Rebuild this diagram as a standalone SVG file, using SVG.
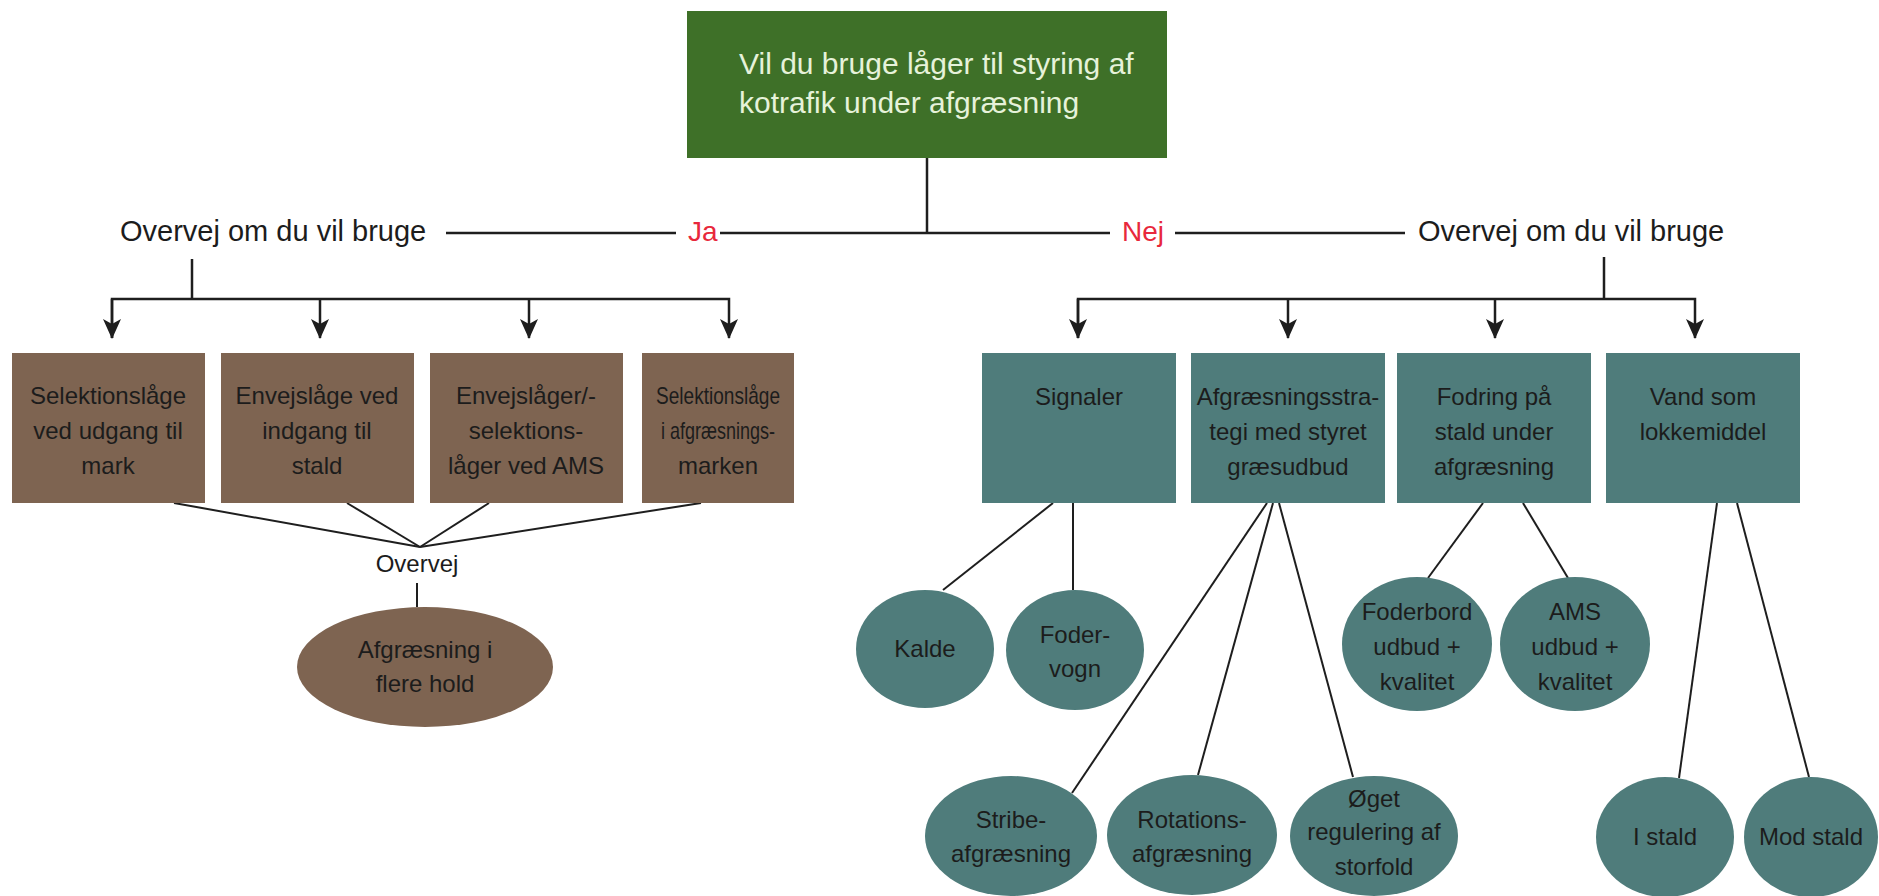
<svg xmlns="http://www.w3.org/2000/svg" width="1879" height="896" viewBox="0 0 1879 896">
<defs>
<style>
.t{font-family:"Liberation Sans","Noto Sans",Arial,sans-serif;font-size:24px;fill:#1c1c1c;text-anchor:middle}
.top{font-family:"Liberation Sans","Noto Sans",Arial,sans-serif;font-size:30px;fill:#e6f2da}
.lbl{font-family:"Liberation Sans","Noto Sans",Arial,sans-serif;font-size:29px;fill:#1c1c1c}
.red{font-family:"Liberation Sans","Noto Sans",Arial,sans-serif;font-size:28px;fill:#e8283c}
.brown{fill:#7e6451}
.teal{fill:#4f7c7b}
.ln{stroke:#1e1e1e;stroke-width:2.5;fill:none}
.thin{stroke:#1e1e1e;stroke-width:2;fill:none}
</style>
<marker id="arr" viewBox="0 0 20 18" refX="19" refY="9" markerWidth="20" markerHeight="18" markerUnits="userSpaceOnUse" orient="auto">
<path d="M0,0 L20,9 L0,18 L5,9 z" fill="#1e1e1e"/>
</marker>
</defs>
<rect width="1879" height="896" fill="#ffffff"/>

<g id="connectors">
<line class="ln" x1="927" y1="158" x2="927" y2="233"/>
<line class="ln" x1="720" y1="233" x2="1110" y2="233"/>
<line class="ln" x1="446" y1="233" x2="676" y2="233"/>
<line class="ln" x1="1175" y1="233" x2="1405" y2="233"/>
<line class="ln" x1="192" y1="259" x2="192" y2="299"/>
<polyline class="ln" points="112,338 112,299 729,299 729,338" marker-end="url(#arr)"/>
<line class="ln" x1="112" y1="299" x2="112" y2="338" marker-end="url(#arr)"/>
<line class="ln" x1="320" y1="299" x2="320" y2="338" marker-end="url(#arr)"/>
<line class="ln" x1="529" y1="299" x2="529" y2="338" marker-end="url(#arr)"/>
<line class="ln" x1="1604" y1="257" x2="1604" y2="299"/>
<polyline class="ln" points="1078,338 1078,299 1695,299 1695,338" marker-end="url(#arr)"/>
<line class="ln" x1="1078" y1="299" x2="1078" y2="338" marker-end="url(#arr)"/>
<line class="ln" x1="1288" y1="299" x2="1288" y2="338" marker-end="url(#arr)"/>
<line class="ln" x1="1495" y1="299" x2="1495" y2="338" marker-end="url(#arr)"/>
<line class="thin" x1="174" y1="503" x2="420" y2="547"/>
<line class="thin" x1="347" y1="503" x2="420" y2="547"/>
<line class="thin" x1="489" y1="503" x2="420" y2="547"/>
<line class="thin" x1="701" y1="503" x2="420" y2="547"/>
<line class="thin" x1="417" y1="583" x2="417" y2="607"/>
<line class="thin" x1="1053" y1="503" x2="943" y2="590"/>
<line class="thin" x1="1073" y1="503" x2="1073" y2="590"/>
<line class="thin" x1="1267" y1="503" x2="1072" y2="793"/>
<line class="thin" x1="1273" y1="503" x2="1198" y2="775"/>
<line class="thin" x1="1279" y1="503" x2="1353" y2="777"/>
<line class="thin" x1="1483" y1="503" x2="1428" y2="578"/>
<line class="thin" x1="1523" y1="503" x2="1568" y2="578"/>
<line class="thin" x1="1717" y1="503" x2="1679" y2="778"/>
<line class="thin" x1="1737" y1="503" x2="1809" y2="777"/>
</g>

<g id="root">
<rect x="687" y="11" width="480" height="147" fill="#3e7028"/>
<text class="top" x="739" y="74">Vil du bruge låger til styring af</text>
<text class="top" x="739" y="113">kotrafik under afgræsning</text>
</g>

<g id="label-ja"><text class="red" x="688" y="241">Ja</text></g>
<g id="label-nej"><text class="red" x="1122" y="241">Nej</text></g>
<g id="overvej-left"><text class="lbl" x="120" y="241">Overvej om du vil bruge</text></g>
<g id="overvej-right"><text class="lbl" x="1418" y="241">Overvej om du vil bruge</text></g>

<g id="b1"><rect class="brown" x="12" y="353" width="193" height="150"/>
<text class="t" x="108" y="404">Selektionslåge</text><text class="t" x="108" y="439">ved udgang til</text><text class="t" x="108" y="474">mark</text></g>
<g id="b2"><rect class="brown" x="221" y="353" width="193" height="150"/>
<text class="t" x="317" y="404">Envejslåge ved</text><text class="t" x="317" y="439">indgang til</text><text class="t" x="317" y="474">stald</text></g>
<g id="b3"><rect class="brown" x="430" y="353" width="193" height="150"/>
<text class="t" x="526" y="404">Envejslåger/-</text><text class="t" x="526" y="439">selektions-</text><text class="t" x="526" y="474">låger ved AMS</text></g>
<g id="b4"><rect class="brown" x="642" y="353" width="152" height="150"/>
<text class="t" x="718" y="404" textLength="124" lengthAdjust="spacingAndGlyphs">Selektionslåge</text><text class="t" x="718" y="439" textLength="114" lengthAdjust="spacingAndGlyphs">i afgræsnings-</text><text class="t" x="718" y="474">marken</text></g>

<g id="overvej-mid"><text class="t" x="417" y="572">Overvej</text></g>
<g id="e-hold"><ellipse class="brown" cx="425" cy="667" rx="128" ry="60"/>
<text class="t" x="425" y="658">Afgræsning i</text><text class="t" x="425" y="692">flere hold</text></g>

<g id="r1"><rect class="teal" x="982" y="353" width="194" height="150"/>
<text class="t" x="1079" y="405">Signaler</text></g>
<g id="r2"><rect class="teal" x="1191" y="353" width="194" height="150"/>
<text class="t" x="1288" y="405">Afgræsningsstra-</text><text class="t" x="1288" y="440">tegi med styret</text><text class="t" x="1288" y="475">græsudbud</text></g>
<g id="r3"><rect class="teal" x="1397" y="353" width="194" height="150"/>
<text class="t" x="1494" y="405">Fodring på</text><text class="t" x="1494" y="440">stald under</text><text class="t" x="1494" y="475">afgræsning</text></g>
<g id="r4"><rect class="teal" x="1606" y="353" width="194" height="150"/>
<text class="t" x="1703" y="405">Vand som</text><text class="t" x="1703" y="440">lokkemiddel</text></g>

<g id="e-kalde"><ellipse class="teal" cx="925" cy="649" rx="69" ry="59"/><text class="t" x="925" y="657">Kalde</text></g>
<g id="e-fodervogn"><ellipse class="teal" cx="1075" cy="650" rx="69" ry="60"/><text class="t" x="1075" y="643">Foder-</text><text class="t" x="1075" y="677">vogn</text></g>
<g id="e-stribe"><ellipse class="teal" cx="1011" cy="836" rx="86" ry="60"/><text class="t" x="1011" y="828">Stribe-</text><text class="t" x="1011" y="862">afgræsning</text></g>
<g id="e-rotation"><ellipse class="teal" cx="1192" cy="835" rx="85" ry="60"/><text class="t" x="1192" y="828">Rotations-</text><text class="t" x="1192" y="862">afgræsning</text></g>
<g id="e-oget"><ellipse class="teal" cx="1374" cy="836" rx="84" ry="60"/><text class="t" x="1374" y="807">Øget</text><text class="t" x="1374" y="840">regulering af</text><text class="t" x="1374" y="875">storfold</text></g>
<g id="e-foderbord"><ellipse class="teal" cx="1417" cy="644" rx="75" ry="67"/><text class="t" x="1417" y="620">Foderbord</text><text class="t" x="1417" y="655">udbud +</text><text class="t" x="1417" y="690">kvalitet</text></g>
<g id="e-ams"><ellipse class="teal" cx="1575" cy="644" rx="75" ry="67"/><text class="t" x="1575" y="620">AMS</text><text class="t" x="1575" y="655">udbud +</text><text class="t" x="1575" y="690">kvalitet</text></g>
<g id="e-istald"><ellipse class="teal" cx="1665" cy="837" rx="69" ry="60"/><text class="t" x="1665" y="845">I stald</text></g>
<g id="e-modstald"><ellipse class="teal" cx="1811" cy="837" rx="67" ry="60"/><text class="t" x="1811" y="845">Mod stald</text></g>
</svg>
